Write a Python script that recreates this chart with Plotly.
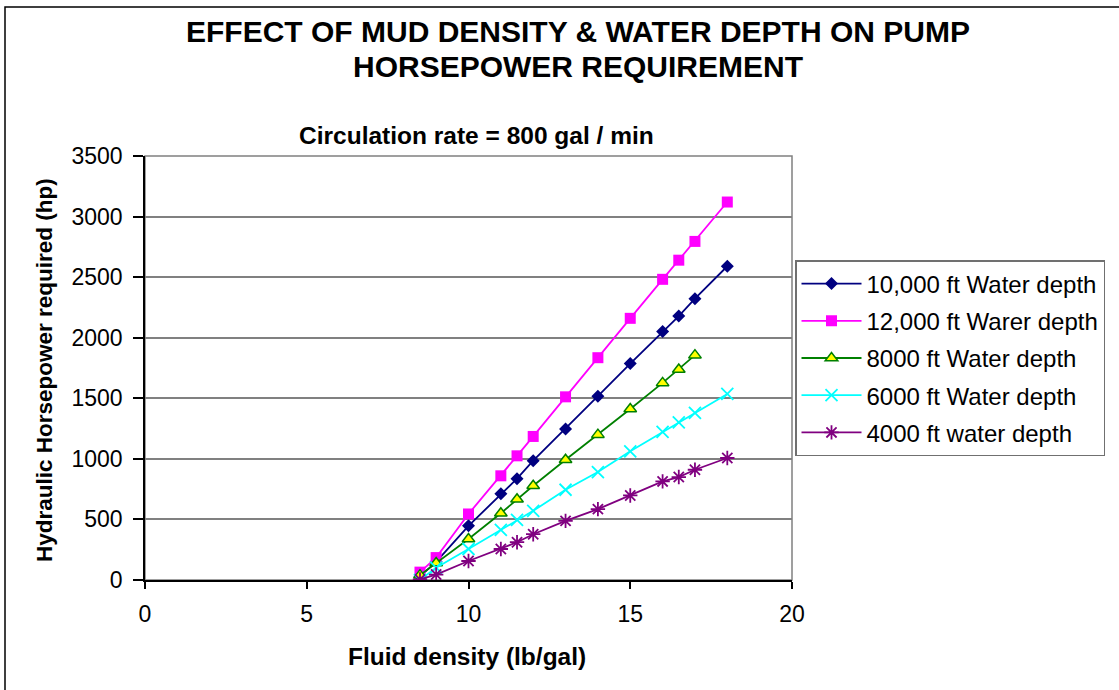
import plotly.graph_objects as go

# ---- data ----
density = [8.5, 9, 10, 11, 11.5, 12, 13, 14, 15, 16, 16.5, 17, 18]
density_8000 = [8.5, 9, 10, 11, 11.5, 12, 13, 14, 15, 16, 16.5, 17]

hp_10000 = [30, 150, 447, 712, 836, 985, 1247, 1517, 1787, 2052, 2179, 2322, 2590]
hp_12000 = [65, 185, 545, 860, 1025, 1185, 1512, 1835, 2160, 2482, 2640, 2795, 3120]
hp_8000 = [40, 140, 339, 551, 667, 778, 993, 1200, 1412, 1627, 1738, 1856]
hp_6000 = [0, 102, 256, 414, 496, 571, 745, 891, 1062, 1222, 1302, 1379, 1536]
hp_4000 = [5, 45, 157, 256, 312, 378, 488, 585, 698, 814, 850, 910, 1007]

names = ["10,000 ft Water depth", "12,000 ft Warer depth", "8000 ft Water depth",
         "6000 ft Water depth", "4000 ft water depth"]

title_lines = ["EFFECT OF MUD DENSITY & WATER DEPTH ON PUMP", "HORSEPOWER REQUIREMENT"]
subtitle = "Circulation rate = 800 gal / min"
x_title = "Fluid density (lb/gal)"
y_title = "Hydraulic Horsepower required (hp)"
x_ticks = [0, 5, 10, 15, 20]
y_ticks = [0, 500, 1000, 1500, 2000, 2500, 3000, 3500]

FONT = "Liberation Sans, Arial, sans-serif"

fig = go.Figure()

series = [
    (density, hp_10000, names[0], "#000080", dict(symbol="diamond", size=10, color="#000080")),
    (density, hp_12000, names[1], "#FF00FF", dict(symbol="square", size=11, color="#FF00FF")),
    (density_8000, hp_8000, names[2], "#008000",
     dict(symbol="triangle-up", size=11, color="#FFFF00", line=dict(color="#008000", width=1.5))),
    (density, hp_6000, names[3], "#00FFFF",
     dict(symbol="x-thin-open", size=12, color="#00FFFF", line=dict(color="#00FFFF", width=1.8))),
    (density, hp_4000, names[4], "#800080",
     dict(symbol="asterisk-open", size=12, color="#800080", line=dict(color="#800080", width=1.8))),
]

for i, (xs, ys, nm, col, mk) in enumerate(series):
    fig.add_trace(go.Scatter(
        x=xs, y=ys, name=nm, mode="lines+markers",
        line=dict(color=col, width=1.8),
        marker=mk, legendgroup=f"g{i}",
    ))

W, H = 1119, 690
L, R, T, B = 145, 1119 - 792, 156, 690 - 580
pw, ph = W - L - R, H - T - B

def px_x(p):
    return (p - L) / pw

def px_y(p):
    return (H - B - p) / ph

annotations = [
    dict(text=title_lines[0], x=px_x(578), y=px_y(32), size=30),
    dict(text=title_lines[1], x=px_x(578), y=px_y(67), size=30),
    dict(text=subtitle, x=px_x(476), y=px_y(135), size=24.5),
    dict(text=x_title, x=px_x(467), y=px_y(656), size=24.5),
    dict(text=y_title, x=px_x(44), y=px_y(370), size=22.5, textangle=-90),
]
ann_objs = []
for a in annotations:
    ann_objs.append(dict(
        text="<b>" + a["text"] + "</b>", x=a["x"], y=a["y"],
        xref="paper", yref="paper", showarrow=False,
        font=dict(family=FONT, size=a["size"], color="black"),
        textangle=a.get("textangle", 0), xanchor="center", yanchor="middle",
    ))

shapes = [
    # outer chart border
    dict(type="rect", xref="paper", yref="paper", x0=px_x(5), y0=-2, x1=3, y1=px_y(7),
         line=dict(color="black", width=1.5), layer="below"),
    # plot area border
    dict(type="rect", xref="paper", yref="paper", x0=0, y0=0, x1=1, y1=1,
         line=dict(color="#808080", width=1.5), layer="below"),
]

fig.update_layout(
    width=W, height=H,
    margin=dict(l=L, r=R, t=T, b=B),
    paper_bgcolor="white", plot_bgcolor="white",
    font=dict(family=FONT, color="black", size=23),
    showlegend=True,
    legend=dict(
        x=px_x(795), y=px_y(260), xanchor="left", yanchor="top",
        bordercolor="#707070", borderwidth=1.5, bgcolor="white",
        font=dict(family=FONT, size=24, color="black"),
        traceorder="grouped", tracegroupgap=3, itemwidth=60,
    ),
    xaxis=dict(
        range=[0, 20], tickvals=x_ticks, ticktext=[str(v) for v in x_ticks],
        showgrid=False, zeroline=False, showline=True, linecolor="black", linewidth=1.5,
        ticks="outside", ticklen=7, tickcolor="black", tickwidth=1.5,
        ticklabelstandoff=6,
        tickfont=dict(family=FONT, size=23, color="black"),
    ),
    yaxis=dict(
        range=[0, 3500], tickvals=y_ticks, ticktext=[str(v) for v in y_ticks],
        showgrid=True, gridcolor="#808080", gridwidth=1.5, zeroline=False,
        showline=True, linecolor="black", linewidth=1.5,
        ticks="outside", ticklen=10, tickcolor="black", tickwidth=1.5,
        ticklabelstandoff=6,
        tickfont=dict(family=FONT, size=23, color="black"),
    ),
    annotations=ann_objs,
    shapes=shapes,
)

fig.write_html("out.html")
